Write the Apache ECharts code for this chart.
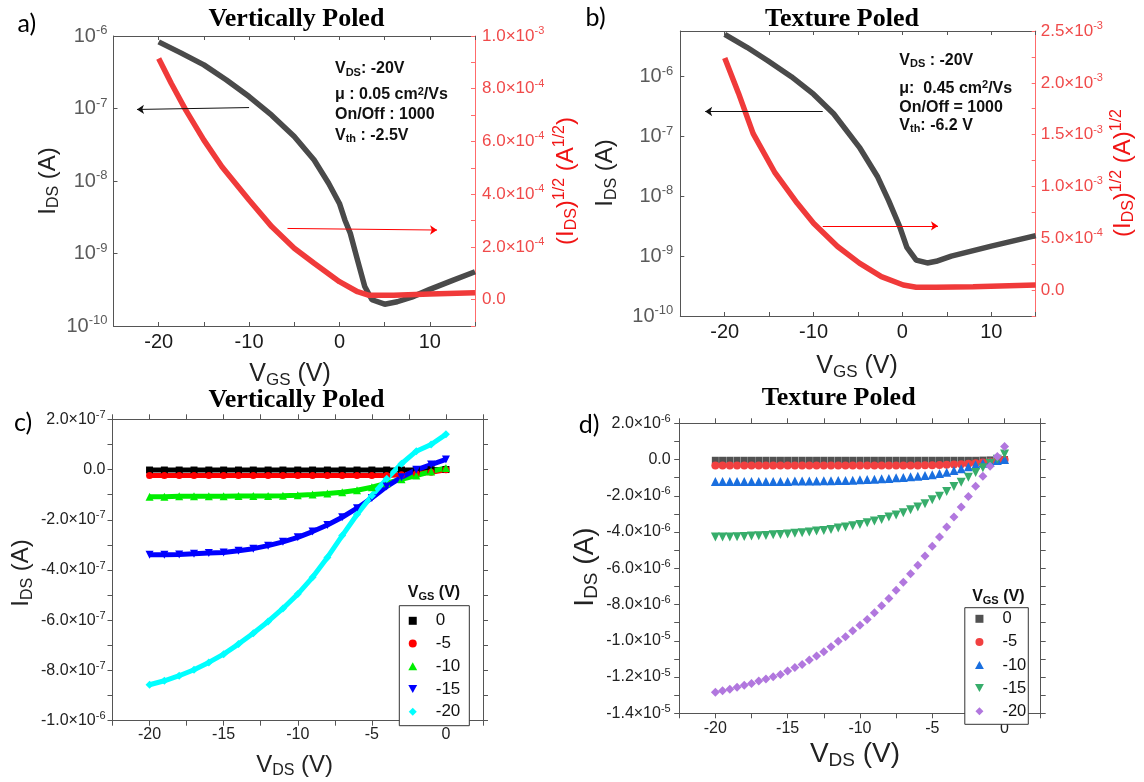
<!DOCTYPE html>
<html><head><meta charset="utf-8">
<script src="https://cdn.jsdelivr.net/npm/echarts@6/dist/echarts.min.js"></script>
<style>html,body{margin:0;padding:0;background:#fff}#c{width:1144px;height:782px}</style>
</head><body><div id="c"></div>
<script>
// ---------- Panel a (Vertically Poled transfer) ----------
const aGateV   = [-20, -17.5, -15, -12.5, -10, -7.5, -5, -2.8, -1.2, 0, 0.6, 1.2, 2.0, 2.8, 3.6, 5.0, 6.4, 8, 10, 12.6, 15];
const aIds     = [8.3e-7, 5.8e-7, 4.0e-7, 2.47e-7, 1.46e-7, 8.1e-8, 4.1e-8, 1.95e-8, 9.3e-9, 4.9e-9, 2.9e-9, 1.9e-9, 8.1e-10, 3.5e-10, 2.3e-10, 2.0e-10, 2.16e-10, 2.5e-10, 3.2e-10, 4.3e-10, 5.6e-10];
const aSqrtV   = [-20, -18.6, -17, -15, -13, -10, -7.5, -5, -2.8, 0, 2, 3.2, 6, 10, 15];
const aSqrtIds = [9.15e-4, 8.2e-4, 7.19e-4, 6.05e-4, 5.04e-4, 3.78e-4, 2.77e-4, 1.95e-4, 1.38e-4, 6.8e-5, 3.0e-5, 1.7e-5, 1.7e-5, 2.1e-5, 2.6e-5];
// ---------- Panel b (Texture Poled transfer) ----------
const bGateV   = [-20, -17.5, -15.15, -12.5, -10, -7.74, -4.84, -2.78, -1.55, -0.3, 0.5, 1.55, 2.8, 3.8, 5.5, 10, 15];
const bIds     = [5.1e-6, 3.1e-6, 1.85e-6, 1.0e-6, 5.1e-7, 2.4e-7, 6.6e-8, 2.1e-8, 8.5e-9, 3.1e-9, 1.4e-9, 8.6e-10, 7.7e-10, 8.2e-10, 1.0e-9, 1.47e-9, 2.2e-9];
const bSqrtV   = [-20, -18.45, -16.8, -14.33, -11.85, -10, -7.3, -4.84, -2.37, 0.1, 1.55, 3.8, 7.95, 15];
const bSqrtIds = [2.24e-3, 1.90e-3, 1.51e-3, 1.13e-3, 8.4e-4, 6.45e-4, 4.2e-4, 2.6e-4, 1.3e-4, 4.9e-5, 2.7e-5, 2.7e-5, 3.3e-5, 4.9e-5];
// ---------- Panel c (Vertically Poled output) ----------
const cVds   = [-20, -19, -18, -17, -16, -15, -14, -13, -12, -11, -10, -9, -8, -7, -6, -5, -4, -3, -2, -1, 0];
const cIds0  = [-2e-9, -2e-9, -2e-9, -2e-9, -2e-9, -2e-9, -2e-9, -2e-9, -2e-9, -2e-9, -2e-9, -2e-9, -2e-9, -2e-9, -2e-9, -2e-9, -2e-9, -2e-9, -2e-9, -1e-9, 0];
const cIds5  = [-2.4e-8, -2.4e-8, -2.4e-8, -2.4e-8, -2.4e-8, -2.4e-8, -2.4e-8, -2.4e-8, -2.4e-8, -2.4e-8, -2.4e-8, -2.4e-8, -2.4e-8, -2.4e-8, -2.4e-8, -2.4e-8, -2.4e-8, -2.1e-8, -1.7e-8, -1.1e-8, -1e-9];
const cIds10 = [-1.08e-7, -1.08e-7, -1.06e-7, -1.06e-7, -1.06e-7, -1.06e-7, -1.05e-7, -1.05e-7, -1.05e-7, -1.04e-7, -1.02e-7, -9.97e-8, -9.57e-8, -9.04e-8, -8.24e-8, -7.04e-8, -5.45e-8, -3.85e-8, -2.39e-8, -8e-9, 6.6e-9];
const cIds15 = [-3.39e-7, -3.39e-7, -3.38e-7, -3.35e-7, -3.32e-7, -3.30e-7, -3.23e-7, -3.15e-7, -3.03e-7, -2.88e-7, -2.70e-7, -2.47e-7, -2.21e-7, -1.90e-7, -1.54e-7, -1.13e-7, -6.8e-8, -3.06e-8, -1.3e-9, 2.0e-8, 4.0e-8];
const cIds20 = [-8.57e-7, -8.41e-7, -8.21e-7, -7.97e-7, -7.68e-7, -7.35e-7, -6.95e-7, -6.52e-7, -6.05e-7, -5.53e-7, -4.96e-7, -4.29e-7, -3.50e-7, -2.63e-7, -1.79e-7, -1.04e-7, -3.7e-8, 2.3e-8, 7.3e-8, 9.97e-8, 1.40e-7];
// ---------- Panel d (Texture Poled output) ----------
const dVds = [-20, -19.5, -19, -18.5, -18, -17.5, -17, -16.5, -16, -15.5, -15, -14.5, -14, -13.5, -13, -12.5, -12, -11.5, -11, -10.5, -10, -9.5, -9, -8.5, -8, -7.5, -7, -6.5, -6, -5.5, -5, -4.5, -4, -3.5, -3, -2.5, -2, -1.5, -1, -0.5, 0];
const dIds0 = [-4e-8, -4e-8, -4e-8, -4e-8, -4e-8, -4e-8, -4e-8, -4e-8, -4e-8, -4e-8, -4e-8, -4e-8, -4e-8, -4e-8, -4e-8, -4e-8, -4e-8, -4e-8, -4e-8, -4e-8, -4e-8, -4e-8, -4e-8, -4e-8, -4e-8, -4e-8, -4e-8, -4e-8, -4e-8, -4e-8, -4e-8, -4e-8, -4e-8, -4e-8, -4e-8, -4e-8, -4e-8, -3e-8, -2e-8, -1e-8, 0];
const dIds5 = [-3.3e-7, -3.3e-7, -3.3e-7, -3.3e-7, -3.3e-7, -3.3e-7, -3.3e-7, -3.3e-7, -3.3e-7, -3.3e-7, -3.3e-7, -3.3e-7, -3.3e-7, -3.3e-7, -3.3e-7, -3.3e-7, -3.3e-7, -3.3e-7, -3.3e-7, -3.3e-7, -3.3e-7, -3.3e-7, -3.3e-7, -3.3e-7, -3.3e-7, -3.3e-7, -3.3e-7, -3.3e-7, -3.3e-7, -3.2e-7, -3.1e-7, -3.0e-7, -2.9e-7, -2.75e-7, -2.55e-7, -2.3e-7, -2.0e-7, -1.65e-7, -1.25e-7, -7e-8, -1e-8];
const dIds10 = [-1.21e-6, -1.21e-6, -1.21e-6, -1.21e-6, -1.21e-6, -1.21e-6, -1.21e-6, -1.21e-6, -1.21e-6, -1.21e-6, -1.21e-6, -1.19e-6, -1.19e-6, -1.19e-6, -1.19e-6, -1.17e-6, -1.17e-6, -1.16e-6, -1.16e-6, -1.14e-6, -1.12e-6, -1.10e-6, -1.08e-6, -1.06e-6, -1.05e-6, -1.01e-6, -9.9e-7, -9.5e-7, -9.2e-7, -8.8e-7, -8.4e-7, -7.7e-7, -7.0e-7, -6.1e-7, -5.1e-7, -4.0e-7, -2.9e-7, -2.0e-7, -1.3e-7, -5.5e-8, 0];
const dIds15 = [-4.275e-6, -4.275e-6, -4.275e-6, -4.257e-6, -4.239e-6, -4.220e-6, -4.202e-6, -4.184e-6, -4.147e-6, -4.129e-6, -4.110e-6, -4.073e-6, -4.037e-6, -4.000e-6, -3.945e-6, -3.908e-6, -3.853e-6, -3.780e-6, -3.725e-6, -3.651e-6, -3.578e-6, -3.486e-6, -3.395e-6, -3.303e-6, -3.174e-6, -3.064e-6, -2.936e-6, -2.771e-6, -2.624e-6, -2.440e-6, -2.220e-6, -2.018e-6, -1.761e-6, -1.486e-6, -1.248e-6, -9.72e-7, -7.16e-7, -4.59e-7, -2.02e-7, 1.8e-8, 3.12e-7];
const dIds20 = [-1.2844e-5, -1.2752e-5, -1.2679e-5, -1.2569e-5, -1.2459e-5, -1.2349e-5, -1.2220e-5, -1.2110e-5, -1.1982e-5, -1.1853e-5, -1.1670e-5, -1.1468e-5, -1.1303e-5, -1.1064e-5, -1.0844e-5, -1.0606e-5, -1.0330e-5, -1.0019e-5, -9.780e-6, -9.450e-6, -9.138e-6, -8.826e-6, -8.459e-6, -8.073e-6, -7.670e-6, -7.211e-6, -6.771e-6, -6.294e-6, -5.835e-6, -5.321e-6, -4.789e-6, -4.275e-6, -3.725e-6, -3.174e-6, -2.624e-6, -2.037e-6, -1.468e-6, -9.17e-7, -3.67e-7, 1.65e-7, 7.16e-7];
const vgsLabels = ['0', '-5', '-10', '-15', '-20'];

// ---------- helpers ----------
const F = "'Liberation Sans', Arial, sans-serif";
const FS = "'Liberation Serif', 'Times New Roman', serif";
const zip = (xs, ys) => xs.map((x, i) => [x, ys[i]]);
function sci(v) {
  if (Math.abs(v) < 1e-20) return '{b|0.0}';
  const e = Math.floor(Math.log10(Math.abs(v)) + 1e-9);
  const m = v / Math.pow(10, e);
  return '{b|' + m.toFixed(1) + '×10}{s|' + e + '}';
}
function richLab(size, supSize, color) {
  return {
    b: {fontSize: size, color: color, fontFamily: F, lineHeight: size + 4},
    s: {fontSize: supSize, color: color, fontFamily: F, lineHeight: supSize, verticalAlign: 'top'}
  };
}
function gRich(size, color, weight, family) {
  const sub = Math.round(size * 0.68);
  return {
    n: {fontSize: size, fill: color, color: color, fontWeight: weight, fontFamily: family, lineHeight: Math.round(size * 1.15)},
    sb: {fontSize: sub, fill: color, color: color, fontWeight: weight, fontFamily: family, lineHeight: Math.round(size * 0.55), verticalAlign: 'bottom'},
    sp: {fontSize: sub, fill: color, color: color, fontWeight: weight, fontFamily: family, lineHeight: Math.round(size * 0.5), verticalAlign: 'top'}
  };
}
function gtext(x, y, text, size, o) {
  o = o || {};
  const color = o.color || '#111';
  const weight = o.weight || 'normal';
  const family = o.family || F;
  return {
    type: 'text', x: x, y: y, rotation: o.rot || 0, silent: true, z: 100,
    style: {
      text: text, rich: gRich(size, color, weight, family),
      fontSize: size, fontFamily: family, fontWeight: weight, fill: color,
      align: o.align || 'center', verticalAlign: 'middle',
      textAlign: o.align || 'center', textVerticalAlign: 'middle'
    }
  };
}

function xAB(grid, pos, showLab, margin) {
  return {
    type: 'value', gridIndex: grid, position: pos, min: -25, max: 15, interval: 5,
    axisLine: {show: true, onZero: false, lineStyle: {color: '#555', width: 1}},
    axisTick: {show: true, inside: true, length: 4, lineStyle: {color: '#555'}},
    splitLine: {show: false},
    axisLabel: {show: showLab, margin: margin, fontSize: 20, color: '#1a1a1a', fontFamily: F,
      formatter: v => (Math.abs(v % 10) < 1e-9 ? String(v) : '')}
  };
}
function yLog(grid, max, margin) {
  return {
    type: 'log', logBase: 10, gridIndex: grid, position: 'left', min: 1e-10, max: max,
    axisLine: {show: true, onZero: false, lineStyle: {color: '#555', width: 1}},
    axisTick: {show: true, inside: true, length: 4, lineStyle: {color: '#555'}},
    splitLine: {show: false}, minorTick: {show: false},
    axisLabel: {margin: margin, rich: richLab(20, 13, '#5a5a5a'),
      formatter: v => {
        const l = Math.log10(v), e = Math.round(l);
        if (Math.abs(l - e) > 1e-6) return '';
        return '{b|10}{s|' + e + '}';
      }}
  };
}
function yRed(grid, min, max, step, margin) {
  return {
    type: 'value', gridIndex: grid, position: 'right', min: min, max: max, interval: step,
    axisLine: {show: true, onZero: false, lineStyle: {color: '#ff6b6b', width: 1}},
    axisTick: {show: true, inside: true, length: 4, lineStyle: {color: '#ff6b6b'}},
    splitLine: {show: false},
    axisLabel: {margin: margin, rich: richLab(17, 11, '#f04a4a'),
      formatter: v => {
        const k = Math.round(v / step);
        if (k % 2 !== 0 || v < -1e-12) return '';
        return sci(v);
      }}
  };
}
function xCD(grid, pos, showLab, margin) {
  return {
    type: 'value', gridIndex: grid, position: pos, min: -22.5, max: 2.5, interval: 2.5,
    axisLine: {show: true, onZero: false, lineStyle: {color: '#555', width: 1}},
    axisTick: {show: true, inside: false, length: 5, lineStyle: {color: '#555'}},
    splitLine: {show: false},
    axisLabel: {show: showLab, margin: margin, fontSize: 16, color: '#222', fontFamily: F,
      formatter: v => (Math.abs(v / 5 - Math.round(v / 5)) < 1e-6 ? String(Math.round(v)) : '')}
  };
}
function yCD(grid, pos, min, max, step, showLab, margin) {
  return {
    type: 'value', gridIndex: grid, position: pos, min: min, max: max, interval: step,
    axisLine: {show: true, onZero: false, lineStyle: {color: '#555', width: 1}},
    axisTick: {show: true, inside: false, length: 5, lineStyle: {color: '#555'}},
    splitLine: {show: false},
    axisLabel: {show: showLab, margin: margin, rich: richLab(16, 11, '#222'),
      formatter: v => {
        const k = Math.round(v / step);
        if (k % 2 !== 0) return '';
        return sci(v);
      }}
  };
}
function arrow(color, from, to) {
  return {
    silent: true, animation: false, symbol: ['none', 'arrow'], symbolSize: 7,
    label: {show: false}, emphasis: {disabled: true},
    lineStyle: {color: color, width: 1, type: 'solid'},
    data: [[{coord: from}, {coord: to}]]
  };
}

const SQ = 'path://M0,0H10V10H0Z';
const TU = 'path://M5,0L10,9L0,9Z';
const TD = 'path://M0,0L10,0L5,9Z';
const DI = 'path://M5,0L10,5L5,10L0,5Z';
const shapes = ['rect', 'circle', 'triangle', TD, 'diamond'];
const legendIcons = [SQ, 'circle', TU, TD, DI];
const cColors = ['#000000', '#ff0000', '#00ee00', '#0000ff', '#00ffff'];
const dColors = ['#515151', '#F14040', '#1A6FDF', '#37AD6B', '#B177DE'];
const cSeriesY = [cIds0, cIds5, cIds10, cIds15, cIds20];
const dSeriesY = [dIds0, dIds5, dIds10, dIds15, dIds20];
const cSizes = [7, 7, 8, 8, 8];
const dSizes = [7, 8, 9, 9, 9];

const series = [
  {type: 'line', name: 'a:I', xAxisIndex: 0, yAxisIndex: 0, data: zip(aGateV, aIds),
   showSymbol: false, smooth: false, silent: true,
   lineStyle: {color: '#4a4a4a', width: 5.5}, itemStyle: {color: '#4a4a4a'},
   markLine: arrow('#111', [-10, 1.03e-7], [-22.4, 0.97e-7])},
  {type: 'line', name: 'a:S', xAxisIndex: 0, yAxisIndex: 1, data: zip(aSqrtV, aSqrtIds),
   showSymbol: false, smooth: false, silent: true,
   lineStyle: {color: '#f03a3a', width: 5.5}, itemStyle: {color: '#f03a3a'},
   markLine: arrow('#f00', [-5.75, 2.70e-4], [10.8, 2.64e-4])},
  {type: 'line', name: 'b:I', xAxisIndex: 2, yAxisIndex: 2, data: zip(bGateV, bIds),
   showSymbol: false, smooth: false, silent: true,
   lineStyle: {color: '#4a4a4a', width: 5.5}, itemStyle: {color: '#4a4a4a'},
   markLine: arrow('#111', [-8.97, 2.62e-7], [-22.2, 2.62e-7])},
  {type: 'line', name: 'b:S', xAxisIndex: 2, yAxisIndex: 3, data: zip(bSqrtV, bSqrtIds),
   showSymbol: false, smooth: false, silent: true,
   lineStyle: {color: '#f03a3a', width: 5.5}, itemStyle: {color: '#f03a3a'},
   markLine: arrow('#f00', [-8.97, 6.19e-4], [4.0, 6.19e-4])}
];
for (let i = 0; i < 5; i++) {
  series.push({type: 'line', name: 'c:' + vgsLabels[i], xAxisIndex: 4, yAxisIndex: 4,
    data: zip(cVds, cSeriesY[i]), symbol: shapes[i], symbolSize: cSizes[i], showSymbol: true, showAllSymbol: true,
    smooth: false, silent: true,
    lineStyle: {color: cColors[i], width: 5}, itemStyle: {color: cColors[i]}});
}
for (let i = 0; i < 5; i++) {
  series.push({type: 'scatter', name: 'd:' + vgsLabels[i], xAxisIndex: 6, yAxisIndex: 6,
    data: zip(dVds, dSeriesY[i]), symbol: shapes[i], symbolSize: dSizes[i], silent: true,
    itemStyle: {color: dColors[i], opacity: 1}});
}

function legendFor(prefix, left, top, pad, gap, fs) {
  return {
    orient: 'vertical', left: left, top: top, padding: pad, itemGap: gap,
    itemWidth: 20, itemHeight: 8, borderColor: '#333', borderWidth: 1, borderRadius: 0,
    selectedMode: false, symbolKeepAspect: true, backgroundColor: '#fff',
    data: vgsLabels.map((l, i) => ({name: prefix + ':' + l, icon: legendIcons[i]})),
    formatter: n => '{t|' + n.split(':')[1] + '}',
    textStyle: {rich: {t: {fontSize: fs, lineHeight: 14, padding: [0, 0, 0, 8], color: '#111', fontFamily: F}}}
  };
}

const graphics = [
  gtext(296.4, 19, 'Vertically Poled', 26, {weight: 'bold', family: FS, color: '#000'}),
  gtext(842, 19, 'Texture Poled', 26, {weight: 'bold', family: FS, color: '#000'}),
  gtext(296.4, 400, 'Vertically Poled', 26, {weight: 'bold', family: FS, color: '#000'}),
  gtext(838.7, 398, 'Texture Poled', 26, {weight: 'bold', family: FS, color: '#000'}),
  gtext(26.8, 24, 'a)', 25, {family: 'Lato, sans-serif', color: '#000'}),
  gtext(595.6, 18.3, 'b)', 25, {family: 'Lato, sans-serif', color: '#000'}),
  gtext(23, 423, 'c)', 25, {family: 'Lato, sans-serif', color: '#000'}),
  gtext(589, 425, 'd)', 25, {family: 'Lato, sans-serif', color: '#000'}),
  // annotation a
  gtext(335, 69, '{n|V}{sb|DS}{n|: -20V}', 16, {weight: 'bold', align: 'left'}),
  gtext(335, 95, '{n|μ : 0.05 cm}{sp|2}{n|/Vs}', 16, {weight: 'bold', align: 'left'}),
  gtext(335, 114.7, '{n|On/Off : 1000}', 16, {weight: 'bold', align: 'left'}),
  gtext(335, 135.8, '{n|V}{sb|th}{n| : -2.5V}', 16, {weight: 'bold', align: 'left'}),
  // annotation b
  gtext(899.3, 60.8, '{n|V}{sb|DS}{n| : -20V}', 16, {weight: 'bold', align: 'left'}),
  gtext(899.3, 88.8, '{n|μ:  0.45 cm}{sp|2}{n|/Vs}', 16, {weight: 'bold', align: 'left'}),
  gtext(899.3, 107.2, '{n|On/Off = 1000}', 16, {weight: 'bold', align: 'left'}),
  gtext(899.3, 125.8, '{n|V}{sb|th}{n|: -6.2 V}', 16, {weight: 'bold', align: 'left'}),
  // axis names
  gtext(48, 181, '{n|I}{sb|DS}{n| (A)}', 24, {rot: Math.PI / 2, color: '#222'}),
  gtext(290, 374, '{n|V}{sb|GS}{n| (V)}', 25, {color: '#222'}),
  gtext(566, 181, '{n|(I}{sb|DS}{n|)}{sp|1/2}{n| (A}{sp|1/2}{n|)}', 24, {rot: Math.PI / 2, color: '#f01414'}),
  gtext(605.7, 173, '{n|I}{sb|DS}{n| (A)}', 24, {rot: Math.PI / 2, color: '#222'}),
  gtext(857, 366, '{n|V}{sb|GS}{n| (V)}', 25, {color: '#222'}),
  gtext(1123, 173, '{n|(I}{sb|DS}{n|)}{sp|1/2}{n| (A)}{sp|1/2}', 24, {rot: Math.PI / 2, color: '#f01414'}),
  gtext(21.5, 573, '{n|I}{sb|DS}{n| (A)}', 24, {rot: Math.PI / 2, color: '#222'}),
  gtext(294.6, 765, '{n|V}{sb|DS}{n| (V)}', 24, {color: '#222'}),
  gtext(585, 567, '{n|I}{sb|DS}{n| (A)}', 28, {rot: Math.PI / 2, color: '#222'}),
  gtext(855, 754, '{n|V}{sb|DS}{n| (V)}', 28, {color: '#222'}),
  // legend titles
  gtext(434, 593, '{n|V}{sb|GS}{n| (V)}', 16, {weight: 'bold', color: '#111'}),
  gtext(998.3, 597, '{n|V}{sb|GS}{n| (V)}', 16, {weight: 'bold', color: '#111'})
];

const option = {
  animation: false,
  backgroundColor: '#ffffff',
  textStyle: {fontFamily: F},
  grid: [
    {left: 113.5, top: 36, width: 361.5, height: 290},
    {left: 680.3, top: 31, width: 355.4, height: 285},
    {left: 112.5, top: 419.3, width: 370.5, height: 301.4},
    {left: 679.2, top: 423.3, width: 361.5, height: 290}
  ],
  xAxis: [
    xAB(0, 'bottom', true, 6), xAB(0, 'top', false, 6),
    xAB(1, 'bottom', true, 6), xAB(1, 'top', false, 6),
    xCD(2, 'bottom', true, 6), xCD(2, 'top', false, 6),
    xCD(3, 'bottom', true, 7), xCD(3, 'top', false, 7)
  ],
  yAxis: [
    yLog(0, 1e-6, 6), yRed(0, -1e-4, 1e-3, 1e-4, 7),
    yLog(1, 5.8e-6, 7), yRed(1, -2.5e-4, 2.5e-3, 2.5e-4, 5),
    yCD(2, 'left', -1e-6, 2e-7, 1e-7, true, 7), yCD(2, 'right', -1e-6, 2e-7, 1e-7, false, 7),
    yCD(3, 'left', -1.4e-5, 2e-6, 1e-6, true, 8.5), yCD(3, 'right', -1.4e-5, 2e-6, 1e-6, false, 8)
  ],
  legend: [
    legendFor('c', 399.3, 605.7, [6.6, 9, 5.4, 9], 5.75, 17),
    legendFor('d', 964.8, 607.7, [2.6, 2, 4.6, 10.2], 6.1, 16.5)
  ],
  series: series,
  graphic: graphics
};
const chart = echarts.init(document.getElementById('c'), null, {renderer: 'canvas'});
chart.setOption(option);
</script>
</body></html>
